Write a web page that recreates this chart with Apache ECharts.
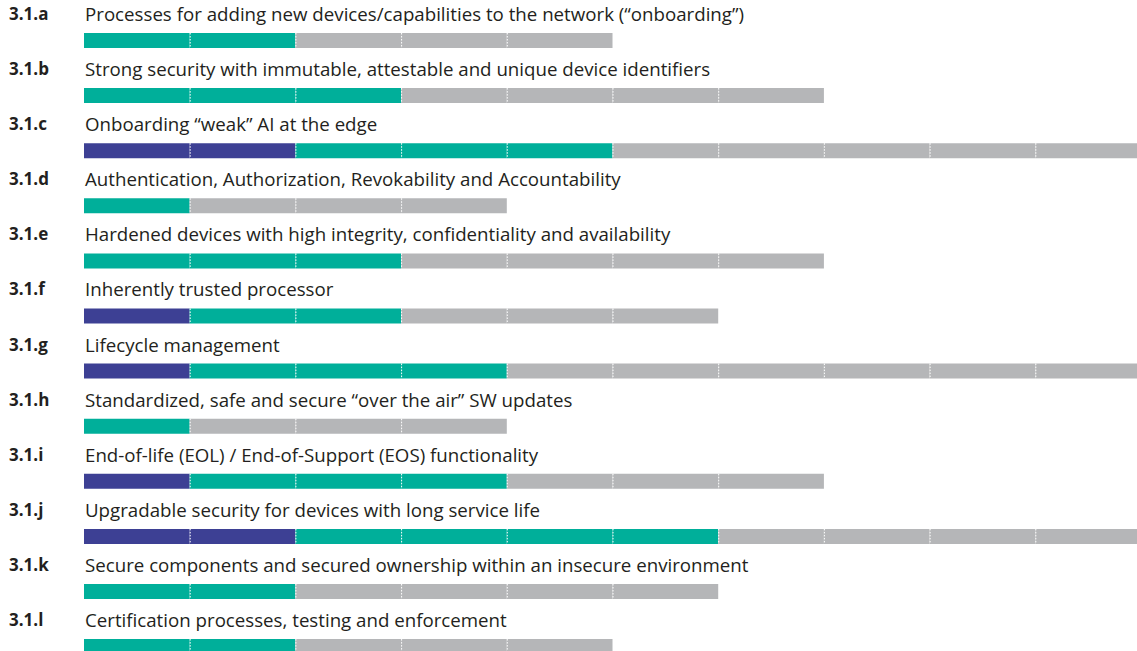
<!DOCTYPE html>
<html>
<head>
<meta charset="utf-8">
<script src="https://cdn.jsdelivr.net/npm/echarts@6/dist/echarts.min.js"></script>
<style>
html,body{margin:0;padding:0;background:#fff;}
#chart{width:1137px;height:651px;}
</style>
</head>
<body>
<div id="chart"></div>
<script>
const codes = ['3.1.a','3.1.b','3.1.c','3.1.d','3.1.e','3.1.f','3.1.g','3.1.h','3.1.i','3.1.j','3.1.k','3.1.l'];
const titles = [
  'Processes for adding new devices/capabilities to the network (\u201Conboarding\u201D)',
  'Strong security with immutable, attestable and unique device identifiers',
  'Onboarding \u201Cweak\u201D AI at the edge',
  'Authentication, Authorization, Revokability and Accountability',
  'Hardened devices with high integrity, confidentiality and availability',
  'Inherently trusted processor',
  'Lifecycle management',
  'Standardized, safe and secure \u201Cover the air\u201D SW updates',
  'End-of-life (EOL) / End-of-Support (EOS) functionality',
  'Upgradable security for devices with long service life',
  'Secure components and secured ownership within an insecure environment',
  'Certification processes, testing and enforcement'
];
const blueCounts = [0,0,2,0,0,1,1,0,1,2,0,0];
const tealCounts = [2,3,3,1,3,2,3,1,3,4,2,2];
const grayCounts = [3,4,5,3,4,3,6,3,3,4,4,3];

const colors = ['#3d4094', '#00af9a', '#b5b6b8'];

const segData = [];
codes.forEach((c, r) => {
  const counts = [blueCounts[r], tealCounts[r], grayCounts[r]];
  let k = 0;
  counts.forEach((n, t) => {
    for (let j = 0; j < n; j++) { segData.push([k, r, t]); k++; }
  });
});
const labelData = codes.map((c, r) => [0, r]);

const chart = echarts.init(document.getElementById('chart'), null, {renderer: 'svg'});
chart.setOption({
  animation: false,
  grid: {left: 84, right: 0, top: 0, bottom: 0},
  xAxis: {type: 'value', min: 0, max: 9.962, show: false},
  yAxis: {type: 'value', min: -0.735, max: 11.08, inverse: true, show: false},
  series: [
    {
      type: 'custom',
      data: segData,
      renderItem: function (params, api) {
        const k = api.value(0), r = api.value(1), t = api.value(2);
        const p0 = api.coord([k, r]);
        const p1 = api.coord([k + 1, r]);
        const h = 15;
        const children = [{
          type: 'rect',
          shape: {x: p0[0], y: p0[1] - h / 2, width: p1[0] - p0[0], height: h},
          style: {fill: colors[t]}
        }];
        if (k > 0) {
          children.push({
            type: 'line',
            shape: {x1: p0[0] + 0.5, y1: p0[1] - h / 2, x2: p0[0] + 0.5, y2: p0[1] + h / 2},
            style: {stroke: '#ffffff', lineWidth: 1, lineDash: [1.5, 1.5]}
          });
        }
        return {type: 'group', children: children};
      }
    },
    {
      type: 'custom',
      data: labelData,
      renderItem: function (params, api) {
        const r = api.value(1);
        const p = api.coord([0, r]);
        const y = p[1] - 27;
        return {
          type: 'group',
          children: [
            {type: 'text', style: {x: 9, y: y, text: codes[r], fill: '#231f20', font: 'bold 17px "Open Sans"', align: 'left', verticalAlign: 'middle'}},
            {type: 'text', style: {x: 85, y: y, text: titles[r], fill: '#231f20', font: '18.7px "Open Sans"', align: 'left', verticalAlign: 'middle'}}
          ]
        };
      }
    }
  ]
});
</script>
</body>
</html>
